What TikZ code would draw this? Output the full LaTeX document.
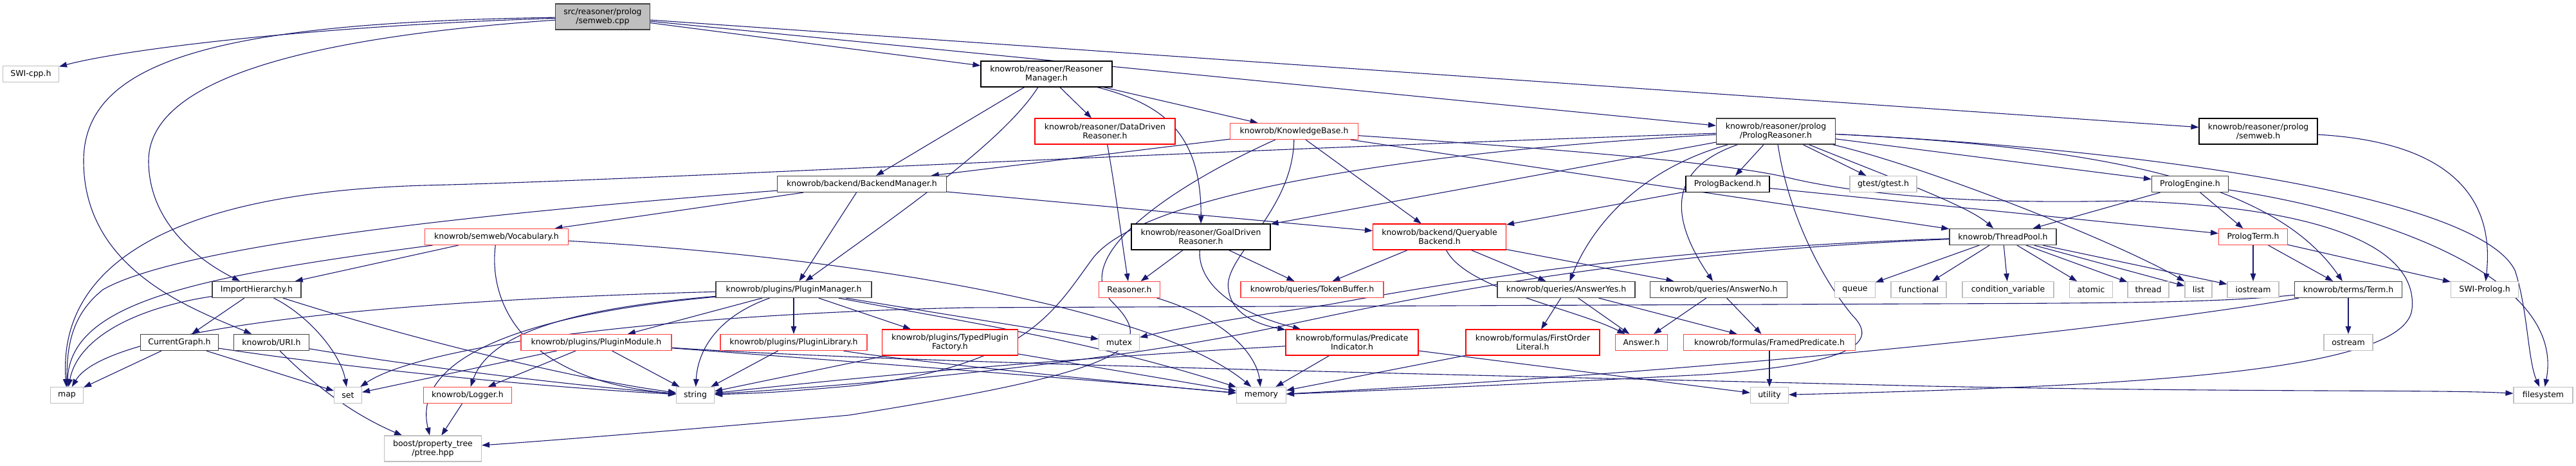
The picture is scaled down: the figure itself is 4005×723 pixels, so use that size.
\documentclass[tikz,border=0pt]{standalone}
\usepackage{fontspec}
\setmainfont{DejaVu Sans}
\usetikzlibrary{arrows.meta}
\definecolor{incedge}{HTML}{191970}
\definecolor{extline}{HTML}{BFBFBF}
\definecolor{darkline}{HTML}{404040}
\definecolor{truncred}{HTML}{FF0000}
\definecolor{truncpink}{HTML}{FF4444}
\pgfdeclarelayer{edgelayer}
\pgfsetlayers{edgelayer,main}
\tikzset{
  filebox/.style={rectangle, draw=black, fill=white, line width=1.1pt,
    font=\fontsize{12.5}{14}\selectfont, align=center, inner sep=0pt,
    minimum height=25pt},
  rootbox/.style={filebox, fill=extline, draw=darkline, minimum height=40pt},
  extbox/.style={filebox, draw=extline},
  darkbox/.style={filebox, draw=darkline, line width=1.3pt},
  redbox/.style={filebox, draw=truncred},
  pinkbox/.style={filebox, draw=truncpink},
  twoline/.style={minimum height=40pt},
  inc/.style={-{Triangle[length=12pt,width=8.5pt]}, draw=incedge, line width=1.1pt}
}
\begin{document}
\begin{tikzpicture}[x=1pt,y=-1pt]
  \begin{pgfonlayer}{edgelayer}
    \path[use as bounding box, fill=white] (0,0) rectangle (4005,723);
  \end{pgfonlayer}
  % include graph of src/reasoner/prolog/semweb.cpp
  \node[rootbox, minimum width=147pt] (cpp) at (937,26) {src/reasoner/prolog\\/semweb.cpp};
  \node[extbox, minimum width=87pt] (swicpp) at (48,115) {SWI-cpp.h};
  \node[filebox, twoline, minimum width=204pt] (rm) at (1627,115) {knowrob/reasoner/Reasoner\\Manager.h};
  \node[darkbox, minimum width=263pt] (bm) at (1340,286) {knowrob/backend/BackendManager.h};
  \node[pinkbox, minimum width=223pt] (vocab) at (772,368) {knowrob/semweb/Vocabulary.h};
  \node[redbox, twoline, minimum width=218pt] (ddr) at (1718,204) {knowrob/reasoner/DataDriven\\Reasoner.h};
  \node[pinkbox, minimum width=199pt] (kb) at (2012,204) {knowrob/KnowledgeBase.h};
  \node[filebox, twoline, minimum width=216pt] (gdr) at (1867,368) {knowrob/reasoner/GoalDriven\\Reasoner.h};
  \node[redbox, twoline, minimum width=207pt] (qb) at (2238,368) {knowrob/backend/Queryable\\Backend.h};
  \node[filebox, minimum width=130pt] (pb) at (2686,286) {PrologBackend.h};
  \node[darkbox, twoline, minimum width=185pt] (pr) at (2761,204) {knowrob/reasoner/prolog\\/PrologReasoner.h};
  \node[extbox, minimum width=104pt] (gtest) at (2928,286) {gtest/gtest.h};
  \node[darkbox, minimum width=166pt] (tp) at (3114,368) {knowrob/ThreadPool.h};
  \node[filebox, twoline, minimum width=184pt] (swh) at (3511,204) {knowrob/reasoner/prolog\\/semweb.h};
  \node[darkbox, minimum width=119pt] (pe) at (3405,286) {PrologEngine.h};
  \node[pinkbox, minimum width=107pt] (pt) at (3503,368) {PrologTerm.h};
  \node[darkbox, minimum width=138pt] (ih) at (399,450) {ImportHierarchy.h};
  \node[darkbox, minimum width=121pt] (cg) at (279,532) {CurrentGraph.h};
  \node[darkbox, minimum width=117pt] (uri) at (422,532) {knowrob/URI.h};
  \node[extbox, minimum width=51pt] (map) at (104,614) {map};
  \node[extbox, minimum width=43pt] (set) at (541,614) {set};
  \node[extbox, twoline, minimum width=151pt] (boost) at (673,697) {boost/property\_tree\\/ptree.hpp};
  \node[darkbox, minimum width=242pt] (pm) at (1234,450) {knowrob/plugins/PluginManager.h};
  \node[pinkbox, minimum width=234pt] (pmod) at (927,532) {knowrob/plugins/PluginModule.h};
  \node[pinkbox, minimum width=228pt] (plib) at (1234,532) {knowrob/plugins/PluginLibrary.h};
  \node[pinkbox, minimum width=137pt] (logger) at (727,614) {knowrob/Logger.h};
  \node[extbox, minimum width=59pt] (string) at (1081,614) {string};
  \node[redbox, twoline, minimum width=211pt] (tpf) at (1477,532) {knowrob/plugins/TypedPlugin\\Factory.h};
  \node[pinkbox, minimum width=95pt] (reas) at (1756,450) {Reasoner.h};
  \node[extbox, minimum width=63pt] (mutex) at (1740,532) {mutex};
  \node[extbox, minimum width=77pt] (memory) at (1961,614) {memory};
  \node[pinkbox, minimum width=222pt] (tb) at (2040,450) {knowrob/queries/TokenBuffer.h};
  \node[redbox, twoline, minimum width=206pt] (pi) at (2102,532) {knowrob/formulas/Predicate\\Indicator.h};
  \node[darkbox, minimum width=214pt] (ay) at (2435,450) {knowrob/queries/AnswerYes.h};
  \node[darkbox, minimum width=213pt] (an) at (2672,450) {knowrob/queries/AnswerNo.h};
  \node[redbox, twoline, minimum width=208pt] (fol) at (2383,532) {knowrob/formulas/FirstOrder\\Literal.h};
  \node[pinkbox, minimum width=81pt] (ans) at (2552,532) {Answer.h};
  \node[pinkbox, minimum width=267pt] (fp) at (2751,532) {knowrob/formulas/FramedPredicate.h};
  \node[extbox, minimum width=59pt] (utility) at (2751,614) {utility};
  \node[extbox, minimum width=63pt] (queue) at (2884,450) {queue};
  \node[extbox, minimum width=86pt] (functional) at (2983,450) {functional};
  \node[extbox, minimum width=142pt] (condvar) at (3122,450) {condition\_variable};
  \node[extbox, minimum width=67pt] (atomic) at (3251,450) {atomic};
  \node[extbox, minimum width=64pt] (thread) at (3340,450) {thread};
  \node[extbox, minimum width=42pt] (list) at (3418,450) {list};
  \node[extbox, minimum width=80pt] (iostream) at (3503,450) {iostream};
  \node[darkbox, minimum width=167pt] (term) at (3651,450) {knowrob/terms/Term.h};
  \node[extbox, minimum width=105pt] (swipl) at (3863,450) {SWI-Prolog.h};
  \node[extbox, minimum width=76pt] (ostream) at (3651,532) {ostream};
  \node[extbox, minimum width=92pt] (fs) at (3954,614) {filesystem};

  \begin{pgfonlayer}{edgelayer}
  % straight includes
  \foreach \a/\b in {cpp/rm, cpp/pr, cpp/swh, rm/bm, rm/ddr, rm/kb, kb/bm, kb/qb, kb/tp,
    bm/vocab, bm/qb, bm/pm, vocab/ih, ih/cg, cg/map, cg/set, pm/pmod, pm/plib, pm/tpf,
    pm/mutex, pmod/set, pmod/logger, pmod/string, plib/string, tpf/string, tpf/memory,
    logger/boost, gdr/reas, gdr/tb, qb/tb, qb/ay, qb/an, pb/qb, pb/pt, pr/pb, pr/gtest,
    pr/pe, pr/gdr, pe/pt, pe/tp, pt/iostream, pt/term, pt/swipl, term/ostream, tp/queue,
    tp/functional, tp/condvar, tp/atomic, tp/thread, tp/list, tp/iostream, ay/fol, ay/ans,
    ay/fp, an/ans, an/fp, fp/utility, fol/memory, pi/memory, pi/utility} {
    \draw[inc] (\a) -- (\b);
  }
  % routed includes
  \draw[inc] (cpp) .. controls (500,40) and (200,75) .. (swicpp);
  \draw[inc] (cpp) .. controls (350,35) and (130,90) .. (130,250) .. controls (130,420) and (300,480) .. (uri);
  \draw[inc] (cpp) .. controls (450,60) and (231,130) .. (231,250) .. controls (231,340) and (300,400) .. (ih);
  \draw[inc] (rm) .. controls (1560,220) and (1400,330) .. (pm);
  \draw[inc] (rm) .. controls (1800,160) and (1868,200) .. (gdr);
  \draw[inc] (pr) .. controls (1700,240) and (1000,280) .. (660,288) .. controls (250,300) and (90,420) .. (map);
  \draw[inc] (bm) .. controls (900,320) and (300,370) .. (160,450) .. controls (110,490) and (104,540) .. (map);
  \draw[inc] (vocab) .. controls (300,430) and (110,470) .. (map);
  \draw[inc] (ih) .. controls (200,480) and (120,530) .. (map);
  \draw[inc] (pm) .. controls (500,470) and (160,520) .. (map);
  \draw[inc] (pm) .. controls (800,490) and (640,560) .. (boost);
  \draw[inc] (pm) .. controls (880,480) and (760,520) .. (logger);
  \draw[inc] (pm) .. controls (1120,490) and (1085,540) .. (string);
  \draw[inc] (pm) .. controls (1500,500) and (1700,530) .. (memory);
  \draw[inc] (vocab) .. controls (1340,400) and (1800,480) .. (memory);
  \draw[inc] (vocab) .. controls (760,460) and (800,590) .. (string);
  \draw[inc] (ih) .. controls (480,490) and (530,550) .. (set);
  \draw[inc] (ih) .. controls (650,530) and (900,590) .. (string);
  \draw[inc] (uri) .. controls (650,570) and (900,600) .. (string);
  \draw[inc] (uri) .. controls (480,590) and (540,640) .. (boost);
  \draw[inc] (cg) .. controls (600,580) and (900,605) .. (string);
  \draw[inc] (pmod) .. controls (1300,560) and (1700,590) .. (memory);
  \draw[inc] (pmod) .. controls (1400,565) and (2400,585) .. (3000,600) .. controls (3500,610) and (3800,605) .. (fs);
  \draw[inc] (plib) .. controls (1400,560) and (1800,600) .. (memory);
  \draw[inc] (reas) .. controls (1920,500) and (1955,560) .. (memory);
  \draw[inc] (ddr) .. controls (1735,300) and (1745,380) .. (reas);
  \draw[inc] (gdr) .. controls (1862,430) and (1900,480) .. (pi);
  \draw[inc] (kb) .. controls (2010,330) and (1900,400) .. (1910,450) .. controls (1915,490) and (1960,505) .. (pi);
  \draw[inc] (kb) .. controls (1820,290) and (1660,400) .. (1730,470) .. controls (1800,540) and (1760,575) .. (1320,645) .. controls (1100,665) and (850,685) .. (boost);
  \draw[inc] (pr) .. controls (2200,235) and (1780,300) .. (1700,400) .. controls (1640,480) and (1600,570) .. (1320,600) .. controls (1200,610) .. (string);
  \draw[inc] (pr) .. controls (2780,330) and (2830,430) .. (2880,490) .. controls (2920,530) and (2890,565) .. (2650,582) .. controls (2300,600) .. (memory);
  \draw[inc] (pr) .. controls (2560,260) and (2480,340) .. (ay);
  \draw[inc] (pr) .. controls (2600,260) and (2590,330) .. (an);
  \draw[inc] (pr) .. controls (2950,280) and (3060,320) .. (tp);
  \draw[inc] (pr) .. controls (3000,260) and (3300,380) .. (list);
  \draw[inc] (pr) .. controls (3300,230) and (3540,290) .. (term);
  \draw[inc] (pr) .. controls (3300,230) and (3850,300) .. (3910,420) .. controls (3930,480) and (3930,560) .. (fs);
  \draw[inc] (pe) .. controls (3700,330) and (3990,430) .. (fs);
  \draw[inc] (kb) .. controls (2400,230) and (2680,252) .. (2780,276) .. controls (2880,300) and (3050,318) .. (3300,312) .. controls (3600,320) and (3760,380) .. (3750,480) .. controls (3740,580) and (3300,600) .. (utility);
  \draw[inc] (term) .. controls (3300,510) and (2700,575) .. (memory);
  \draw[inc] (term) .. controls (3450,470) and (3300,471) .. (3000,472) -- (1500,478) .. controls (1000,490) and (650,540) .. (set);
  \draw[inc] (tp) .. controls (2600,385) and (2300,430) .. (2067,473) .. controls (1950,490) and (1830,510) .. (mutex);
  \draw[inc] (tp) .. controls (2600,390) and (2300,440) .. (2000,505) .. controls (1700,570) and (1300,600) .. (string);
  \draw[inc] (qb) .. controls (2280,450) and (2450,480) .. (ans);
  \draw[inc] (pi) .. controls (1600,560) and (1300,590) .. (string);
  \draw[inc] (swh) .. controls (3800,220) and (3880,300) .. (swipl);
  \end{pgfonlayer}
\end{tikzpicture}
\end{document}
